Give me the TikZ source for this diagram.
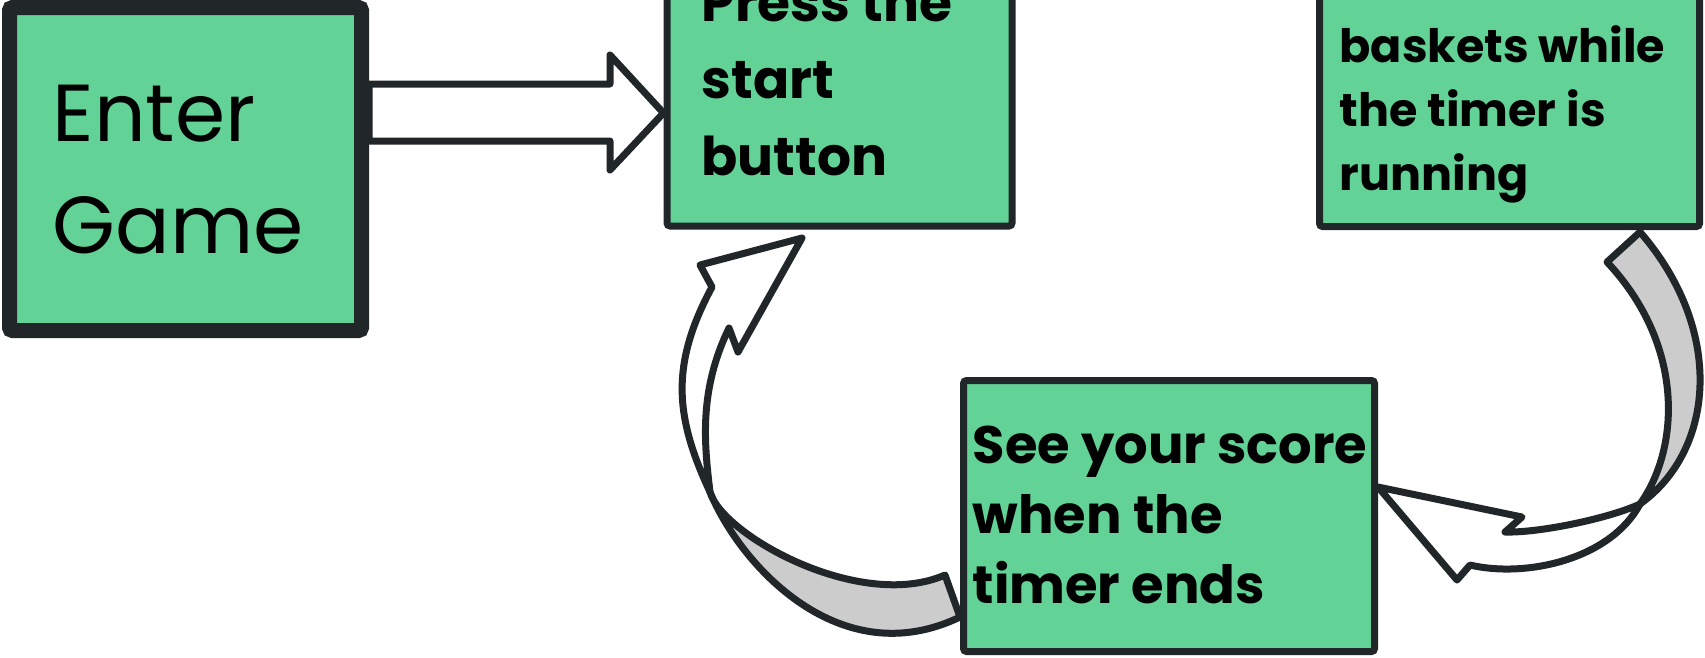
\documentclass[tikz,border=0pt]{standalone}
\usepackage{fontspec}
\setmainfont{Poppins}
\usetikzlibrary{backgrounds}
\definecolor{boxgreen}{HTML}{62D296}
\definecolor{inkdark}{HTML}{212729}
\definecolor{backgray}{HTML}{CCCCCC}

\begin{document}
\begin{tikzpicture}[
  x=0.1mm, y=-0.1mm,
  box/.style={draw=inkdark, fill=boxgreen, line width=0.7mm, rounded corners=0.3mm, inner sep=0pt},
  boxtext/.style={anchor=base west, inner sep=0pt, align=left, text=black},
  band/.style={draw=inkdark, line width=0.7mm, line join=round},
  frontface/.style={band, fill=white},
  backface/.style={band, fill=backgray}
]
\useasboundingbox (0,0) rectangle (1705,657);
\clip (0,0) rectangle (1705,657);

% boxes
\node[box, line width=1.5mm, minimum width=35.2mm, minimum height=32.3mm] (enter) at (185.5,169) {};
\node[box, minimum width=34.5mm, minimum height=29.6mm] (press) at (839.5,78) {};
\node[box, minimum width=38mm, minimum height=31.15mm] (shoot) at (1509.5,70.75) {};
\node[box, minimum width=41.1mm, minimum height=27.1mm] (score) at (1169,516) {};

% texts (anchored on the baseline of the last line)
\node[boxtext, font=\fontsize{23}{31.6}\selectfont] (enter-t) at (52,253) {Enter\\Game};
\node[boxtext, font=\bfseries\fontsize{15.2}{21.9}\selectfont] (press-t) at (701,175) {Press the\\start\\button};
\node[boxtext, font=\bfseries\fontsize{13.1}{18.2}\selectfont] (shoot-t) at (1339,190) {baskets while\\the timer is\\running};
\node[boxtext, font=\bfseries\fontsize{15}{19.9}\selectfont] (score-t) at (972,603) {See your score\\when the\\timer ends};

\coordinate (press-in) at (802,238);

\begin{pgfonlayer}{background}
% enter -> press
\draw[frontface] (enter.east |- 0,84) -- (610,84) -- (610,55) -- (press.west |- 0,113)
  -- (610,170) -- (610,141) -- (enter.east |- 0,141) -- cycle;

% score -> press, curling round on the left
\filldraw[backface] (945,575) -- (960,617)
  .. controls (840,675) and (740,565) .. (710,492)
  .. controls (722,535) and (860,612) .. (945,575) -- cycle;
\filldraw[frontface] (710,492)
  .. controls (675,417) and (670,365) .. (712,287)
  -- (700,265) -- (press-in) -- (738,352) -- (729,328)
  .. controls (699,390) and (704,442) .. (710,492) -- cycle;

% shoot -> score, curling round on the right
\filldraw[backface] (1640,232)
  .. controls (1725,330) and (1715,450) .. (1640,504)
  .. controls (1680,448) and (1685,345) .. (1607,262) -- cycle;
\filldraw[frontface] (1640,504)
  .. controls (1610,518) and (1540,533) .. (1505,532)
  -- (1522,517) -- (score.east |- 0,487) -- (1457,580) -- (1470,565)
  .. controls (1525,578) and (1610,560) .. (1640,504) -- cycle;
\end{pgfonlayer}
\end{tikzpicture}
\end{document}
